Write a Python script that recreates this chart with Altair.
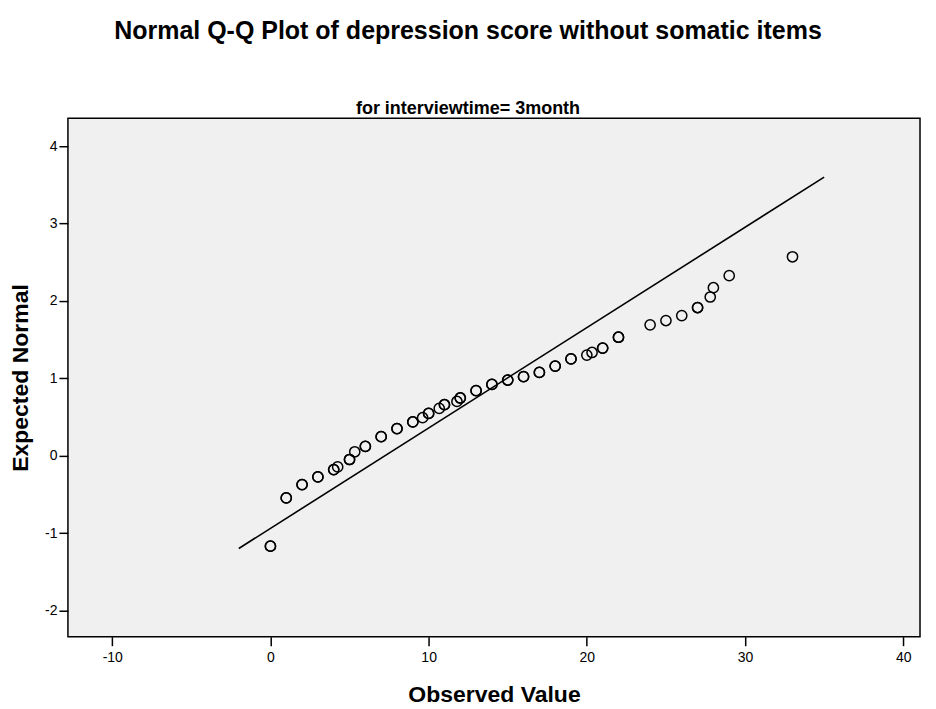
import altair as alt
import pandas as pd

# Observed values (depression score) and their expected normal quantiles
observed = [0, 1, 2, 3, 4, 4.25, 5, 5.33, 6, 7, 8, 9, 9.62, 10, 10.67, 11, 11.79, 12,
            13, 14, 15, 16, 17, 18, 19, 20, 20.33, 21, 22, 24, 25, 26, 27, 27.8, 28, 29, 33]
expected = [-1.17, -0.546, -0.374, -0.275, -0.18, -0.146, -0.05, 0.05, 0.12, 0.245, 0.35,
            0.435, 0.49, 0.546, 0.61, 0.658, 0.70, 0.745, 0.84, 0.92, 0.977, 1.02, 1.075,
            1.157, 1.25, 1.30, 1.333, 1.39, 1.53, 1.69, 1.746, 1.81, 1.914, 2.05, 2.17,
            2.326, 2.57]
# tied cases drawn on top of each other
ties = [2, 2, 2, 2, 2, 1, 2, 1, 2, 2, 2, 2, 1, 2, 1, 2, 1, 2,
        2, 2, 2, 2, 2, 2, 2, 1, 1, 2, 2, 1, 1, 1, 2, 1, 1, 1, 1]

# reference line end points
line_x = [-2, 35]
line_y = [-1.2, 3.6]

x_ticks = [-10, 0, 10, 20, 30, 40]
y_ticks = [-2, -1, 0, 1, 2, 3, 4]

rows = []
for o, e, t in zip(observed, expected, ties):
    for _ in range(t):
        rows.append({"obs": o, "exp": e})
pts = pd.DataFrame(rows)
ref = pd.DataFrame({"obs": line_x, "exp": line_y})

FONT = "Liberation Sans"
W, H = 853, 519

xscale = alt.Scale(domain=[-12.8, 41.06], nice=False, zero=False)
yscale = alt.Scale(domain=[-2.34, 4.36], nice=False, zero=False)

xaxis = alt.Axis(title="Observed Value", values=x_ticks, grid=False, domain=False,
                 labelExpr="'' + datum.value",
                 tickSize=9, tickWidth=1.5, tickColor="black", labelPadding=5,
                 labelFontSize=14, labelFont=FONT, labelColor="black",
                 titleFontSize=23, titleFont=FONT, titleFontWeight="bold",
                 titleColor="black", titlePadding=19)
yaxis = alt.Axis(title="Expected Normal", values=y_ticks, grid=False, domain=False,
                 labelExpr="'' + datum.value",
                 tickSize=9, tickWidth=1.5, tickColor="black", labelPadding=2,
                 labelFontSize=14, labelFont=FONT, labelColor="black",
                 titleFontSize=23, titleFont=FONT, titleFontWeight="bold",
                 titleColor="black", titleX=-35, titleY=H / 2)

points = alt.Chart(pts).mark_point(shape="circle", filled=False, color="black",
                                   size=105, strokeWidth=1.5, opacity=1).encode(
    x=alt.X("obs:Q", scale=xscale, axis=xaxis),
    y=alt.Y("exp:Q", scale=yscale, axis=yaxis),
)

line = alt.Chart(ref).mark_line(color="black", strokeWidth=1.6).encode(
    x=alt.X("obs:Q", scale=xscale),
    y=alt.Y("exp:Q", scale=yscale),
)

chart = alt.layer(line, points).properties(
    width=W,
    height=H,
    background="white",
    autosize=alt.AutoSizeParams(type="none"),
    padding={"left": 60, "top": 110, "right": 8, "bottom": 70},
    title=alt.TitleParams(
        text="Normal Q-Q Plot of depression score without somatic items",
        subtitle="for interviewtime= 3month",
        font=FONT, fontSize=25, fontWeight="bold", color="black",
        subtitleFont=FONT, subtitleFontSize=18, subtitleFontWeight="bold",
        subtitleColor="black", subtitlePadding=56, offset=0,
        anchor="middle", dx=-26,
    ),
).configure_view(
    fill="#F0F0F0", stroke="black", strokeWidth=1.5
)

chart.save("out.html", embed_options={"renderer": "svg", "actions": False})
